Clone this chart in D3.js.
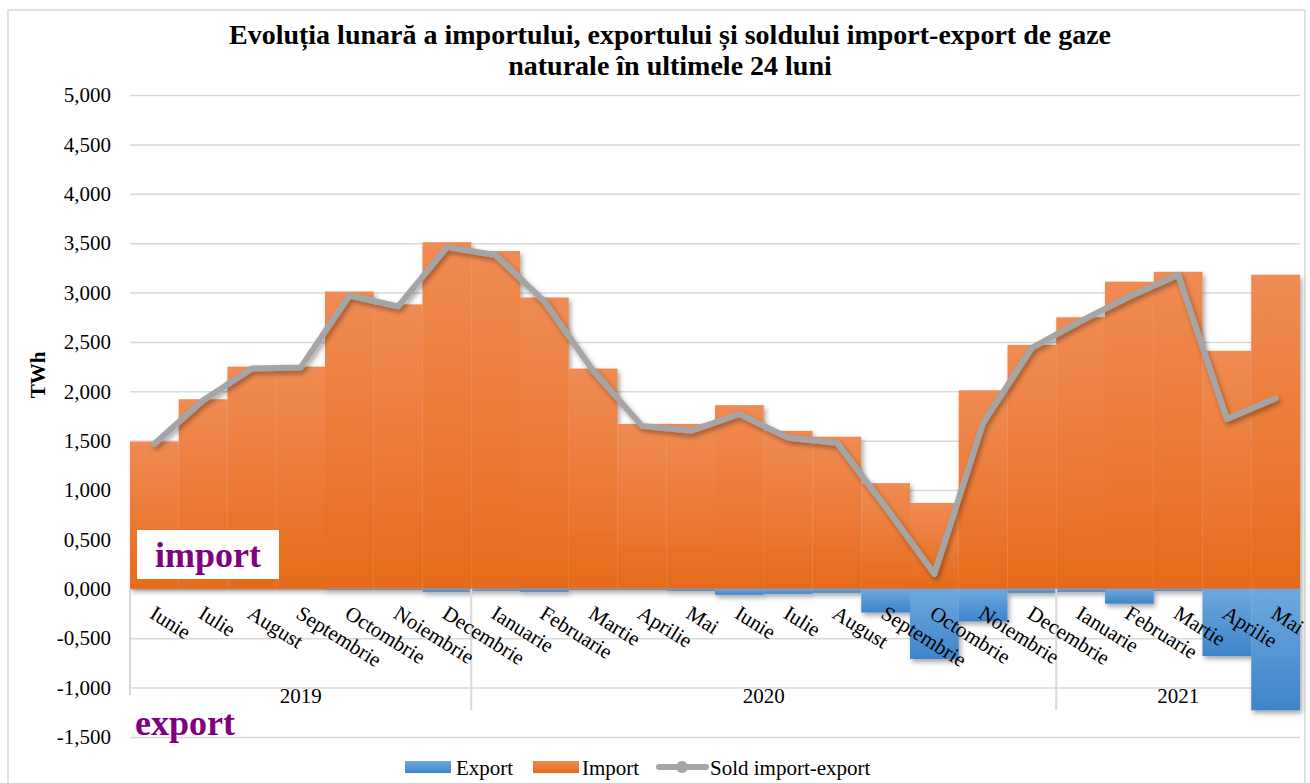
<!DOCTYPE html>
<html>
<head>
<meta charset="utf-8">
<script src="https://cdn.jsdelivr.net/npm/d3@7"></script>
<style>
  body { margin: 0; background: #fff; }
  svg { font-family: "Liberation Serif", "Times New Roman", serif; }
</style>
</head>
<body>
<svg id="chart" width="1310" height="783"></svg>
<script>
// luni (categorii)
var luni = ["Iunie","Iulie","August","Septembrie","Octombrie","Noiembrie","Decembrie",
            "Ianuarie","Februarie","Martie","Aprilie","Mai","Iunie","Iulie","August",
            "Septembrie","Octombrie","Noiembrie","Decembrie",
            "Ianuarie","Februarie","Martie","Aprilie","Mai"];
// ani si cate luni are fiecare
var ani = ["2019","2020","2021"];
var luniPeAn = [7, 12, 5];

// valori TWh
var importVal = [1.49, 1.92, 2.25, 2.25, 3.01, 2.88, 3.51, 3.42, 2.95, 2.23, 1.67, 1.67,
                 1.86, 1.60, 1.54, 1.07, 0.87, 2.01, 2.47, 2.75, 3.11, 3.21, 2.41, 3.18];
var exportVal = [0.00, 0.00, 0.00, 0.00, -0.01, -0.01, -0.03, -0.02, -0.03, -0.01, -0.01, -0.02,
                 -0.06, -0.05, -0.04, -0.24, -0.71, -0.33, -0.04, -0.03, -0.15, -0.02, -0.68, -1.23];
var soldVal   = [1.47, 1.91, 2.23, 2.24, 2.97, 2.86, 3.46, 3.38, 2.91, 2.21, 1.65, 1.60,
                 1.77, 1.53, 1.48, 0.83, 0.15, 1.68, 2.44, 2.71, 2.96, 3.18, 1.72, 1.93];
var yTicks = [-1.5, -1, -0.5, 0, 0.5, 1, 1.5, 2, 2.5, 3, 3.5, 4, 4.5, 5];

var svg = d3.select("#chart");
var pLeft = 130, pRight = 1300, pTop = 95, pBottom = 737;

var x = d3.scaleBand().domain(d3.range(luni.length)).range([pLeft, pRight]).padding(0);
var y = d3.scaleLinear().domain([-1.5, 5]).range([pBottom, pTop]);

// format romanesc: virgula zecimala
var fmt = function(d){ return d3.format(".3f")(d).replace(".", ",").replace("−", "-"); };

var defs = svg.append("defs");
function grad(id, c1, c2){
  var g = defs.append("linearGradient").attr("id", id)
    .attr("x1", 0).attr("y1", 0).attr("x2", 0).attr("y2", 1);
  g.append("stop").attr("offset", "0%").attr("stop-color", c1);
  g.append("stop").attr("offset", "100%").attr("stop-color", c2);
}
grad("gOrange", "#f08b53", "#e56b1a");
grad("gBlue", "#6ea8de", "#3e85cb");

var shadow = defs.append("filter").attr("id", "shadow")
  .attr("x", "-20%").attr("y", "-20%").attr("width", "140%").attr("height", "140%");
shadow.append("feDropShadow").attr("dx", 2).attr("dy", 3)
  .attr("stdDeviation", 2.5).attr("flood-color", "#000").attr("flood-opacity", 0.35);

// chenar exterior
svg.append("rect").attr("x", 8).attr("y", 10).attr("width", 1297).attr("height", 785)
  .attr("fill", "none").attr("stroke", "#d9d9d9").attr("stroke-width", 1.5);

// titlu
var title = svg.append("text").attr("text-anchor", "middle")
  .attr("font-weight", "bold").attr("font-size", 28).attr("fill", "#000");
title.append("tspan").attr("x", 670).attr("y", 44)
  .text("Evoluția lunară a importului, exportului și soldului import-export de gaze");
title.append("tspan").attr("x", 670).attr("y", 75)
  .text("naturale în ultimele 24 luni");

// axa Y + linii de grila
var yAxis = svg.append("g").attr("transform", "translate(" + pLeft + ",0)")
  .call(d3.axisLeft(y).tickValues(yTicks).tickFormat(fmt)
    .tickSize(-(pRight - pLeft)).tickPadding(19));
yAxis.select(".domain").remove();
yAxis.selectAll(".tick line").attr("stroke", "#d9d9d9").attr("stroke-width", 1.5);
yAxis.selectAll(".tick text").attr("font-size", 21).attr("fill", "#000")
  .attr("font-family", "Liberation Serif, Times New Roman, serif");

svg.append("text")
  .attr("transform", "translate(45,375) rotate(-90)")
  .attr("text-anchor", "middle").attr("font-weight", "bold").attr("font-size", 21)
  .text("TWh");

// bare import
svg.append("g").attr("filter", "url(#shadow)")
  .selectAll("rect").data(importVal).enter().append("rect")
  .attr("x", function(d, i){ return x(i); })
  .attr("y", function(d){ return y(d); })
  .attr("width", x.bandwidth())
  .attr("height", function(d){ return y(0) - y(d); })
  .attr("fill", "url(#gOrange)");

// bare export
svg.append("g").attr("filter", "url(#shadow)")
  .selectAll("rect").data(exportVal).enter().append("rect")
  .attr("x", function(d, i){ return x(i); })
  .attr("y", y(0))
  .attr("width", x.bandwidth())
  .attr("height", function(d){ return y(d) - y(0); })
  .attr("fill", "url(#gBlue)");

// axa X (linia de zero)
svg.append("line").attr("x1", pLeft).attr("x2", pRight)
  .attr("y1", y(0)).attr("y2", y(0))
  .attr("stroke", "#c8c8c8").attr("stroke-width", 2).attr("filter", "url(#shadow)");

// separatoare ani
var pos = [0];
luniPeAn.forEach(function(n){ pos.push(pos[pos.length - 1] + n); });
svg.append("g").selectAll("line").data(pos.slice(0, -1)).enter().append("line")
  .attr("x1", function(d){ return x(d); }).attr("x2", function(d){ return x(d); })
  .attr("y1", y(0)).attr("y2", function(d, i){ return i === 0 ? 695 : 710; })
  .attr("stroke", "#d9d9d9").attr("stroke-width", 2);

// etichete luni
svg.append("g").selectAll("text").data(luni).enter().append("text")
  .attr("transform", function(d, i){
    return "translate(" + (x(i) + x.bandwidth() / 2 - 6) + ",617) rotate(32)";
  })
  .attr("font-size", 21).attr("fill", "#000")
  .text(function(d){ return d; });

// etichete ani
svg.append("g").selectAll("text").data(ani).enter().append("text")
  .attr("x", function(d, i){
    var a = x(pos[i]), b = (pos[i + 1] < luni.length) ? x(pos[i + 1]) : pRight;
    return (a + b) / 2;
  })
  .attr("y", 703).attr("text-anchor", "middle").attr("font-size", 21)
  .text(function(d){ return d; });

// linia sold
var line = d3.line()
  .x(function(d, i){ return x(i) + x.bandwidth() / 2; })
  .y(function(d){ return y(d); });
svg.append("path").datum(soldVal)
  .attr("d", line).attr("fill", "none")
  .attr("stroke", "#a5a5a5").attr("stroke-width", 6)
  .attr("stroke-linejoin", "round").attr("stroke-linecap", "round")
  .attr("filter", "url(#shadow)");

// casete text
svg.append("rect").attr("x", 137).attr("y", 530).attr("width", 142).attr("height", 49)
  .attr("fill", "#fff");
svg.append("text").attr("x", 155).attr("y", 567)
  .attr("font-size", 36).attr("font-weight", "bold").attr("fill", "#800080")
  .text("import");
svg.append("text").attr("x", 135).attr("y", 735)
  .attr("font-size", 36).attr("font-weight", "bold").attr("fill", "#800080")
  .text("export");

// legenda
var leg = svg.append("g");
leg.append("rect").attr("x", 405).attr("y", 761).attr("width", 46).attr("height", 12)
  .attr("fill", "url(#gBlue)");
leg.append("text").attr("x", 456).attr("y", 775).attr("font-size", 21).text("Export");
leg.append("rect").attr("x", 533).attr("y", 761).attr("width", 46).attr("height", 12)
  .attr("fill", "url(#gOrange)");
leg.append("text").attr("x", 582).attr("y", 775).attr("font-size", 21).text("Import");
leg.append("line").attr("x1", 659).attr("x2", 706).attr("y1", 767).attr("y2", 767)
  .attr("stroke", "#a5a5a5").attr("stroke-width", 6).attr("stroke-linecap", "round");
leg.append("circle").attr("cx", 682).attr("cy", 767).attr("r", 6).attr("fill", "#a5a5a5");
leg.append("text").attr("x", 710).attr("y", 775).attr("font-size", 21).text("Sold import-export");
</script>
</body>
</html>
